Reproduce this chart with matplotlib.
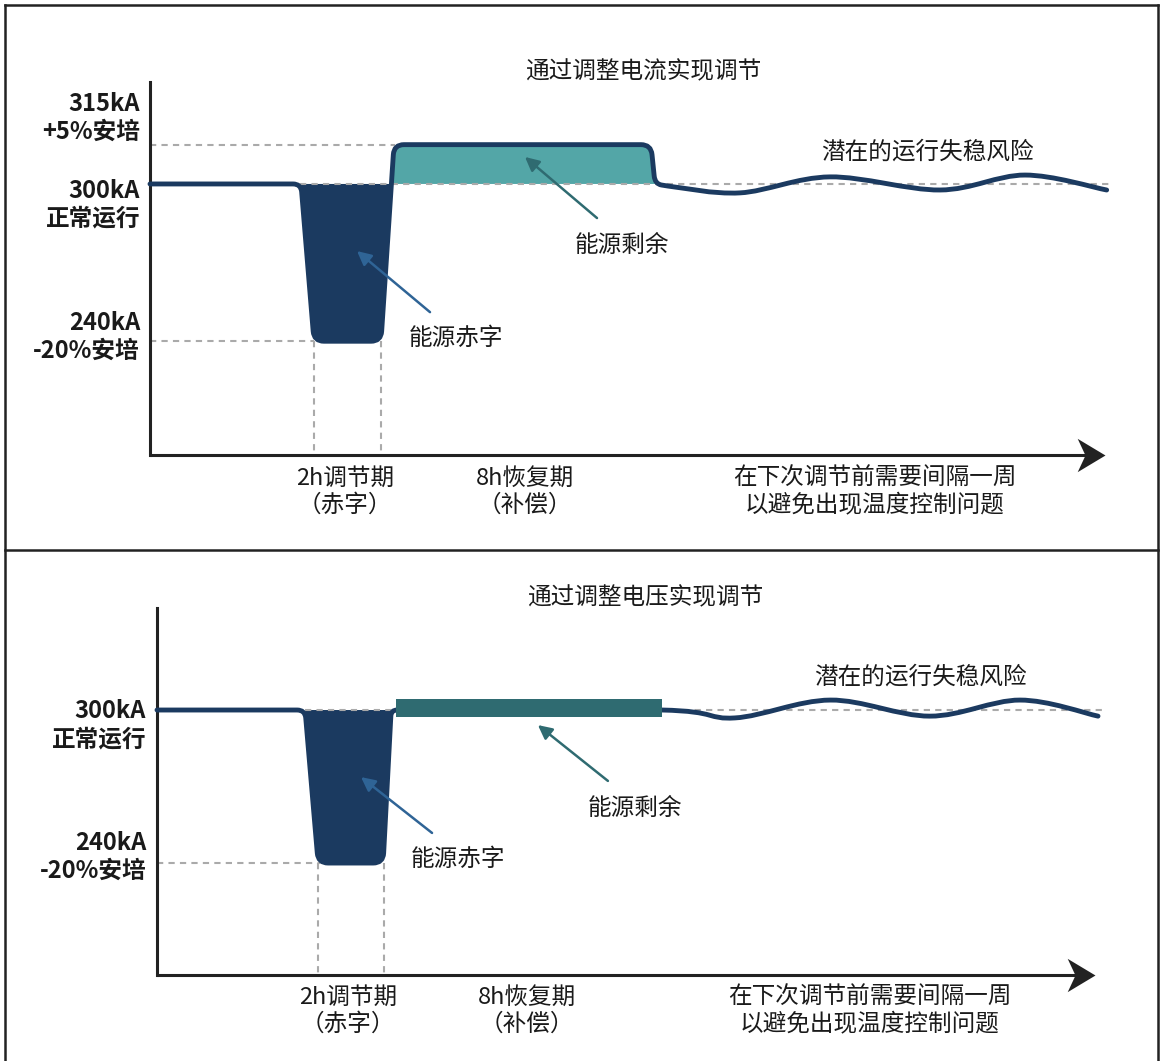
import numpy as np
import matplotlib
matplotlib.use("Agg")
import matplotlib.pyplot as plt
from matplotlib.path import Path
from matplotlib.patches import PathPatch
from matplotlib.lines import Line2D

plt.rcParams['font.family'] = ['Noto Sans CJK SC', 'DejaVu Sans']

NAVY = '#1b3a60'
TEAL = '#53a6a7'
TEAL_DARK = '#2f6b71'
BLUE = '#2f6496'
GREY = '#aaaaaa'
INK = '#1a1a1a'
AXIS = '#222222'

# ---- data (x: hours, y: kA) ----
# upper panel: current regulation
top_knots_x = [0, 4.53, 4.92, 6.93, 7.32, 15.03, 15.15, 15.54]
top_knots_y = [300, 300, 240, 240, 315, 315, 300, 299.2]
top_wave_x = [17.7, 20.4, 23.7, 26.25, 28.7]
top_wave_y = [296.6, 302.7, 297.7, 303.4, 297.7]
top_deficit_x = [4.53, 4.92, 6.93, 7.24]
top_deficit_y = [300, 240, 240, 300]
top_surplus_x = [7.24, 7.32, 15.03, 15.15]
top_surplus_y = [300, 315, 315, 300]
top_level_labels = ['315kA\n+5%安培', '300kA\n正常运行', '240kA\n-20%安培']

# lower panel: voltage regulation
bot_knots_x = [0, 4.42, 4.81, 6.75, 6.99, 15.07]
bot_knots_y = [300, 300, 240, 240, 300, 300]
bot_wave_x = [17.25, 20.1, 23.07, 25.76, 28.09]
bot_wave_y = [296.9, 303.9, 297.6, 303.9, 297.6]
bot_deficit_x = [4.42, 4.81, 6.75, 6.99]
bot_deficit_y = [300, 240, 240, 300]
bot_surplus_x = [7.13, 15.07]
bot_surplus_y = [297.3, 304.3]
bot_level_labels = ['300kA\n正常运行', '240kA\n-20%安培']

phase_labels = ['2h调节期\n（赤字）', '8h恢复期\n（补偿）',
                '在下次调节前需要间隔一周\n以避免出现温度控制问题']

# notched arrow head, tip at the origin
STEALTH = Path([(0, 0), (-1, -0.6), (-0.72, 0), (-1, 0.6), (0, 0)],
               [Path.MOVETO, Path.LINETO, Path.LINETO, Path.LINETO, Path.CLOSEPOLY])


def rounded(P, radii):
    verts = [P[0]]
    codes = [Path.MOVETO]
    for i in range(1, len(P) - 1):
        k = P[i]
        u = P[i - 1] - k
        v = P[i + 1] - k
        lu, lv = np.hypot(*u), np.hypot(*v)
        a = k + u / lu * min(radii[i], lu / 2)
        b = k + v / lv * min(radii[i], lv / 2)
        verts += [a, k, b]
        codes += [Path.LINETO, Path.CURVE3, Path.CURVE3]
    verts.append(P[-1])
    codes.append(Path.LINETO)
    return verts, codes


def curve_path(ax, kx, ky, radii, wx, wy):
    T = ax.transData
    P = T.transform(np.column_stack([kx, ky]))
    verts, codes = rounded(P, radii)
    W = np.vstack([P[-1:], T.transform(np.column_stack([wx, wy]))])
    for i in range(len(W) - 1):
        p0, p1 = W[i], W[i + 1]
        prev = W[i - 1] if i > 0 else P[-2]
        nxt = W[i + 2] if i + 2 < len(W) else p1
        verts += [p0 + (p1 - prev) / 6, p1 - (nxt - p0) / 6, p1]
        codes += [Path.CURVE4] * 3
    return Path(T.inverted().transform(np.array(verts)), codes)


def fill_path(ax, xs, ys, radii):
    T = ax.transData
    P = T.transform(np.column_stack([xs, ys]))
    verts, codes = rounded(P, radii)
    verts.append(P[0])
    codes.append(Path.CLOSEPOLY)
    return Path(T.inverted().transform(np.array(verts)), codes)


def dashed(ax, x, y):
    ax.plot(x, y, color=GREY, lw=1.5, ls=(0, (3, 2.5)), zorder=2, clip_on=False)


def setup(ax, xmax, ylim):
    ax.set_xlim(0, xmax)
    ax.set_ylim(*ylim)
    for s in ['top', 'right', 'bottom']:
        ax.spines[s].set_visible(False)
    ax.spines['left'].set_linewidth(2.2)
    ax.spines['left'].set_color(AXIS)
    ax.set_xticks([])
    ax.set_yticks([])
    ax.patch.set_alpha(0)
    tr = ax.transAxes
    ax.plot([0, 0.98], [0, 0], color=AXIS, lw=2.2, transform=tr,
            clip_on=False, solid_capstyle='butt')
    ax.plot([1], [0], marker=STEALTH, markersize=40, color=AXIS, mew=0,
            transform=tr, clip_on=False)


def note(ax, xy, xytext, color):
    ax.annotate('', xy=xy, xytext=xytext,
                arrowprops=dict(arrowstyle='-|>,head_length=0.6,head_width=0.3',
                                color=color, lw=1.8, mutation_scale=14,
                                shrinkA=0, shrinkB=0), zorder=6)


def label(ax, x, y, s, **kw):
    ax.text(x, y, s, ha='center', va='center', fontsize=fs, color=INK,
            linespacing=1.2, clip_on=False, **kw)


W, H = 1160, 1061
fig = plt.figure(figsize=(W / 100, H / 100), dpi=100)
fs = 17

# ---------------- upper panel ----------------
ax = fig.add_axes([150 / W, (H - 455) / H, (1105 - 150) / W, (455 - 82) / H])
setup(ax, 28.65, (196.6, 338.9))
ax.add_patch(PathPatch(fill_path(ax, top_deficit_x, top_deficit_y, [0, 10, 10, 0]),
                       facecolor=NAVY, edgecolor='none', zorder=1))
ax.add_patch(PathPatch(fill_path(ax, top_surplus_x, top_surplus_y, [0, 10, 10, 0]),
                       facecolor=TEAL, edgecolor='none', zorder=1))
dashed(ax, [0, 7.35], [315, 315])
dashed(ax, [4.5, 28.8], [300, 300])
dashed(ax, [0, 4.92], [240, 240])
for xv in [top_knots_x[2], top_knots_x[3]]:
    dashed(ax, [xv, xv], [240, 196.6])
ax.add_patch(PathPatch(curve_path(ax, top_knots_x, top_knots_y,
                                  [0, 8, 10, 10, 10, 10, 8, 0], top_wave_x, top_wave_y),
                       fill=False, edgecolor=NAVY, lw=3.5, capstyle='round',
                       joinstyle='round', zorder=3, clip_on=False))

ytr = ax.get_yaxis_transform()
for ypos, lab in zip([325.2, 292, 241.6], top_level_labels):
    ax.text(-0.0105, ypos, lab, transform=ytr, ha='right', va='center',
            fontsize=fs, fontweight='bold', color=INK, linespacing=1.2)
label(ax, 14.8, 342.6, '通过调整电流实现调节')
label(ax, 23.31, 312.0, '潜在的运行失稳风险')
label(ax, 14.16, 276.7, '能源剩余')
note(ax, (11.25, 310.3), (13.41, 287), TEAL_DARK)
label(ax, 9.18, 241.0, '能源赤字')
note(ax, (6.21, 274.4), (8.4, 251.1), BLUE)
for xpos, lab in zip([5.85, 11.25, 21.75], phase_labels):
    label(ax, xpos, 182.6, lab)

# ---------------- lower panel ----------------
bx = fig.add_axes([157 / W, (H - 975) / H, (1095 - 157) / W, (975 - 608) / H])
setup(bx, 28.0, (196.1, 340))
bx.add_patch(PathPatch(fill_path(bx, bot_deficit_x, bot_deficit_y, [0, 10, 10, 0]),
                       facecolor=NAVY, edgecolor='none', zorder=1))
dashed(bx, [4.42, 28.3], [300, 300])
dashed(bx, [0, 4.87], [240, 240])
for xv in [4.81, 6.78]:
    dashed(bx, [xv, xv], [240, 196.1])
bx.add_patch(PathPatch(curve_path(bx, bot_knots_x, bot_knots_y,
                                  [0, 8, 10, 10, 6, 0], bot_wave_x, bot_wave_y),
                       fill=False, edgecolor=NAVY, lw=3.5, capstyle='round',
                       joinstyle='round', zorder=3, clip_on=False))
bx.fill_between(bot_surplus_x, bot_surplus_y[0], bot_surplus_y[1],
                color=TEAL_DARK, lw=0, zorder=4)

ytr = bx.get_yaxis_transform()
for ypos, lab in zip([294.1, 242.4], bot_level_labels):
    bx.text(-0.0117, ypos, lab, transform=ytr, ha='right', va='center',
            fontsize=fs, fontweight='bold', color=INK, linespacing=1.2)
label(bx, 14.57, 343.9, '通过调整电压实现调节')
label(bx, 22.8, 312.7, '潜在的运行失稳风险')
label(bx, 14.27, 261.4, '能源剩余')
note(bx, (11.37, 294.1), (13.46, 272.2), TEAL_DARK)
label(bx, 8.99, 241.4, '能源赤字')
note(bx, (6.09, 273.7), (8.21, 251.8), BLUE)
for xpos, lab in zip([5.7, 11.04, 21.28], phase_labels):
    label(bx, xpos, 182.2, lab)

# ---------------- frame ----------------
def px_line(x, y):
    fig.add_artist(Line2D([v / W for v in x], [1 - v / H for v in y],
                          color=AXIS, lw=1.8, transform=fig.transFigure))

px_line([5, 5], [5, H])
px_line([5, 1158], [5, 5])
px_line([1158, 1158], [5, H])
px_line([5, 1158], [550, 550])

fig.savefig('out.png', dpi=100)
